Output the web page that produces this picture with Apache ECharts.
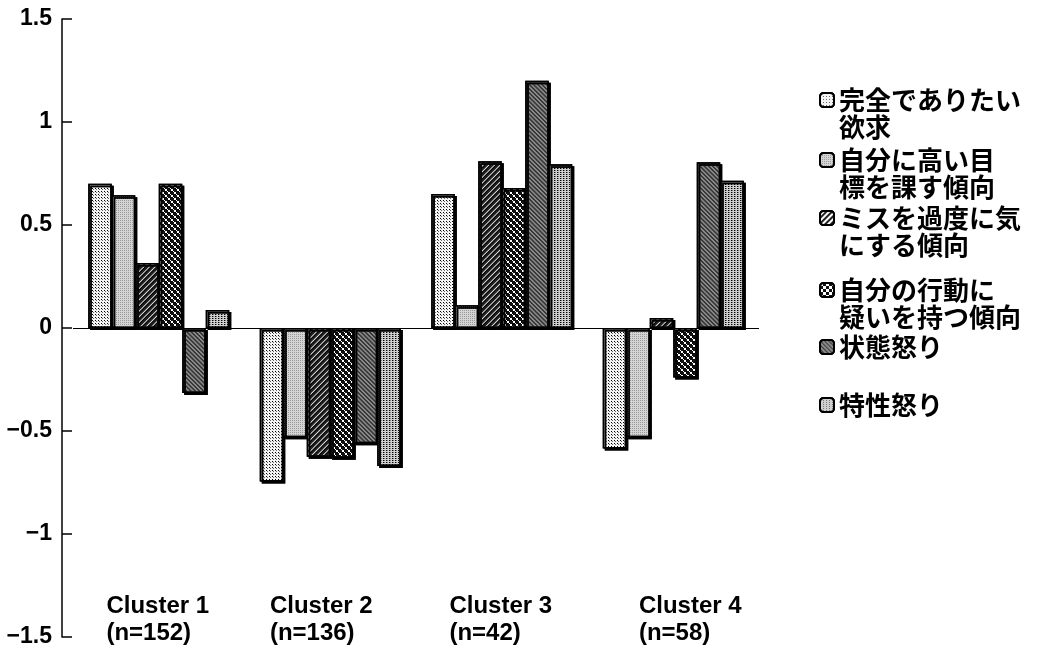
<!DOCTYPE html>
<html>
<head>
<meta charset="utf-8">
<script src="https://cdn.jsdelivr.net/npm/echarts@6/dist/echarts.min.js"></script>
<style>
  html, body { margin: 0; padding: 0; background: #fff; }
  #chart { width: 1055px; height: 652px; }
</style>
</head>
<body>
<div id="chart"></div>
<script>
// ---- data ----
const categories = ['Cluster 1', 'Cluster 2', 'Cluster 3', 'Cluster 4'];
const sampleSizes = ['(n=152)', '(n=136)', '(n=42)', '(n=58)'];
const seriesNames = [
  '完全でありたい欲求',
  '自分に高い目標を課す傾向',
  'ミスを過度に気にする傾向',
  '自分の行動に疑いを持つ傾向',
  '状態怒り',
  '特性怒り'
];
const legendLines = [
  ['完全でありたい', '欲求'],
  ['自分に高い目', '標を課す傾向'],
  ['ミスを過度に気', 'にする傾向'],
  ['自分の行動に', '疑いを持つ傾向'],
  ['状態怒り'],
  ['特性怒り']
];
const perfectionDesire = [0.70, -0.745, 0.65, -0.585];
const highStandards   = [0.645, -0.53, 0.11, -0.53];
const concernMistakes = [0.316, -0.625, 0.81, 0.048];
const doubtsActions   = [0.70, -0.63, 0.68, -0.24];
const stateAnger      = [-0.316, -0.56, 1.20, 0.805];
const traitAnger      = [0.087, -0.67, 0.795, 0.715];
const seriesValues = [perfectionDesire, highStandards, concernMistakes, doubtsActions, stateAnger, traitAnger];

// ---- styles ----
const fills = [
  { color: '#f4f4f4', decal: { symbol: 'rect', symbolSize: 1, color: '#666', dashArrayX: [1, 2], dashArrayY: [1, 2] } },
  { color: '#d4d4d4', decal: { symbol: 'rect', symbolSize: 1, color: '#9a9a9a', dashArrayX: [1, 1], dashArrayY: [1, 1] } },
  { color: '#ffffff', decal: { symbol: 'rect', symbolSize: 1, color: '#222', dashArrayX: [1, 0], dashArrayY: [2, 2], rotation: -Math.PI / 4 } },
  { color: '#ffffff', decal: { symbol: 'rect', symbolSize: 1, color: '#111', dashArrayX: [[3, 3], [0, 3, 3, 0]], dashArrayY: [3, 0] } },
  { color: '#8a8a8a', decal: { symbol: 'rect', symbolSize: 1, color: '#3a3a3a', dashArrayX: [1, 0], dashArrayY: [1, 2], rotation: Math.PI / 4 } },
  { color: '#cfcfcf', decal: { symbol: 'rect', symbolSize: 1, color: '#7a7a7a', dashArrayX: [1, 2], dashArrayY: [1, 1] } }
];
const legendTops = [59.5, 119.5, 177.5, 249.5, 333.5, 391.5];
const labelShift = [-1, -9, -1, 17];

const labelRich = {};
labelShift.forEach((s, i) => {
  labelRich['c' + i] = {
    align: 'left',
    fontFamily: '"Liberation Sans", Arial, sans-serif',
    fontWeight: 'bold',
    fontSize: 24,
    lineHeight: 27,
    color: '#000',
    padding: s >= 0 ? [0, 0, 0, 2 * s] : [0, -2 * s, 0, 0]
  };
});

const chart = echarts.init(document.getElementById('chart'), null, { renderer: 'canvas' });

const option = {
  animation: false,
  backgroundColor: '#fff',
  grid: { left: 73, right: 296, top: 19, bottom: 15, containLabel: false },
  legend: seriesNames.map((name, i) => ({
    data: [name],
    left: 819,
    top: legendTops[i],
    padding: 0,
    itemWidth: 14,
    itemHeight: 14,
    selectedMode: false,
    formatter: () => legendLines[i].length > 1 ? ' \n' + legendLines[i].join('\n') : legendLines[i][0],
    textStyle: {
      fontFamily: '"Noto Sans CJK JP", sans-serif',
      fontWeight: 'bold',
      fontSize: 26,
      lineHeight: 27,
      color: '#000'
    }
  })),
  xAxis: {
    type: 'category',
    data: categories,
    axisLine: { show: false, onZero: false },
    axisTick: { show: false },
    axisLabel: {
      margin: -44,
      formatter: (v, idx) => '{c' + idx + '|' + v + '}\n{c' + idx + '|' + sampleSizes[idx] + '}',
      rich: labelRich,
      lineHeight: 27
    },
    splitLine: { show: false }
  },
  yAxis: {
    type: 'value',
    min: -1.5,
    max: 1.5,
    interval: 0.5,
    offset: 11,
    axisLine: { show: true, lineStyle: { color: '#000', width: 1.5 } },
    axisTick: { show: true, inside: true, length: 10, lineStyle: { color: '#000', width: 1.5 } },
    splitLine: { show: false },
    axisLabel: {
      margin: 10,
      formatter: v => (v < 0 ? '\u2212' + Math.abs(v) : String(v)),
      fontFamily: '"Liberation Sans", Arial, sans-serif',
      fontWeight: 'bold',
      fontSize: 23,
      color: '#000'
    }
  },
  series: seriesNames.map((name, i) => ({
    name,
    type: 'bar',
    data: seriesValues[i],
    barWidth: 23.5,
    barGap: '0%',
    itemStyle: {
      color: fills[i].color,
      decal: fills[i].decal,
      borderColor: '#000',
      borderWidth: 1.5,
      shadowColor: 'rgba(0,0,0,1)',
      shadowBlur: 0,
      shadowOffsetX: 2,
      shadowOffsetY: 2
    },
    emphasis: { disabled: true },
    markLine: i === 0 ? {
      silent: true,
      symbol: 'none',
      label: { show: false },
      lineStyle: { color: '#000', width: 1.2, type: 'solid' },
      data: [{ yAxis: 0 }]
    } : undefined
  }))
};
chart.setOption(option);
</script>
</body>
</html>
